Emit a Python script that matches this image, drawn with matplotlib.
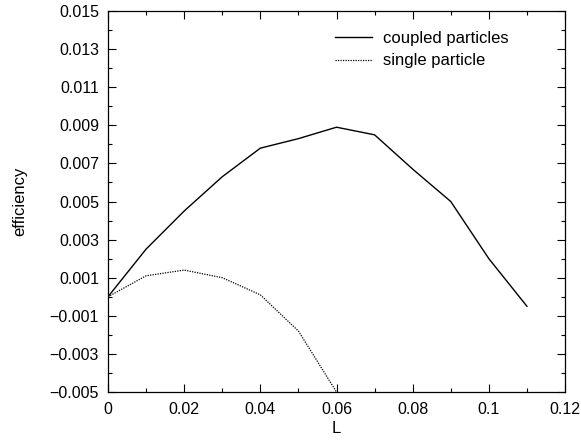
import matplotlib
matplotlib.use("Agg")
import matplotlib.pyplot as plt
from matplotlib.ticker import FixedLocator, MultipleLocator

plt.rcParams['font.family'] = ['Liberation Sans', 'DejaVu Sans']

L_coupled = [0.0, 0.01, 0.02, 0.03, 0.04, 0.05, 0.06, 0.07, 0.08, 0.09, 0.10, 0.11]
eff_coupled = [0.0, 0.0025, 0.0045, 0.0063, 0.0078, 0.0083, 0.0089, 0.0085, 0.0067, 0.0050, 0.0020, -0.0005]
L_single = [0.0, 0.01, 0.02, 0.03, 0.04, 0.05, 0.06]
eff_single = [0.0, 0.0011, 0.0014, 0.0010, 0.0001, -0.0018, -0.0050]
ytick_labels = ["-0.005", "-0.003", "-0.001", "0.001", "0.003", "0.005", "0.007",
                "0.009", "0.011", "0.013", "0.015"]
xtick_labels = ["0", "0.02", "0.04", "0.06", "0.08", "0.1", "0.12"]

W, H = 581, 441
fig = plt.figure(figsize=(W/100, H/100), dpi=100)
ax = fig.add_axes([108/W, 49/H, 457/W, 381/H])
ax.plot(L_coupled, eff_coupled, color='black', lw=1.0, label='coupled particles')
ax.plot(L_single, eff_single, color='black', lw=0.9, linestyle=(0, (1, 1)), label='single particle')

ax.set_xlim(0, 0.12)
ax.set_ylim(-0.005, 0.015)
yt = [float(s) for s in ytick_labels]
ax.yaxis.set_major_locator(FixedLocator(yt))
ax.set_yticklabels([s.replace('-', '\u2212') for s in ytick_labels])
ax.yaxis.set_minor_locator(FixedLocator([v + 0.001 for v in yt[:-1]]))
xt = [float(s) for s in xtick_labels]
ax.xaxis.set_major_locator(FixedLocator(xt))
ax.set_xticklabels(xtick_labels)
ax.xaxis.set_minor_locator(MultipleLocator(0.01))
ax.tick_params(which='both', direction='in', top=True, right=True, labelsize=11.5, width=0.8)
ax.tick_params(which='major', length=6)
ax.tick_params(axis='x', which='major', pad=7)
ax.tick_params(axis='y', which='major', pad=6.5)
ax.tick_params(which='minor', length=3)
for s in ax.spines.values():
    s.set_linewidth(0.9)

ax.set_xlabel('L', fontsize=12, labelpad=3)
ax.set_ylabel('efficiency', fontsize=12, labelpad=16)
ax.legend(loc='upper left', frameon=False, fontsize=12, handlelength=2.2,
          handletextpad=0.66, borderpad=0, borderaxespad=0, labelspacing=0.45,
          bbox_to_anchor=(335/W, 1 - 31/H), bbox_transform=fig.transFigure)

fig.savefig('out.png', dpi=100)
